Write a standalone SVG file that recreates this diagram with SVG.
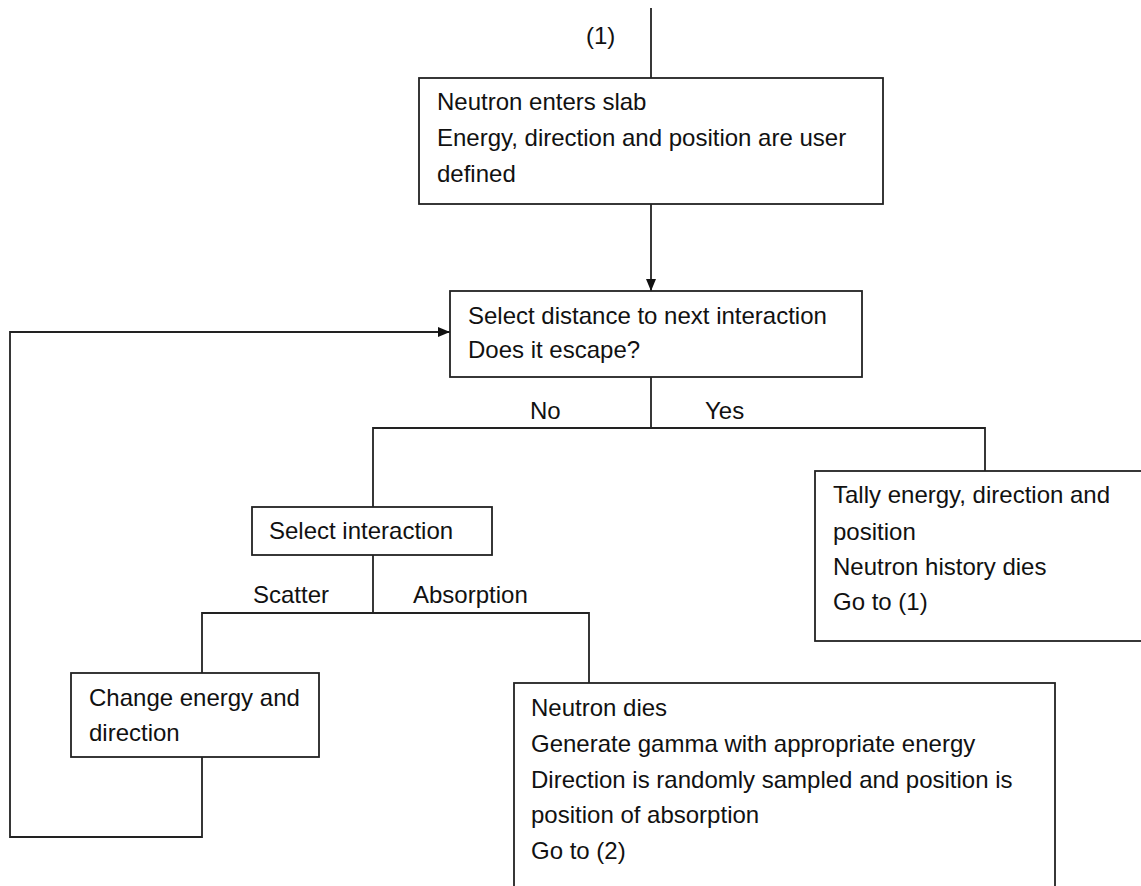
<svg xmlns="http://www.w3.org/2000/svg" width="1141" height="886" viewBox="0 0 1141 886">
  <defs>
    <marker id="arrow" viewBox="0 0 12 10" refX="12" refY="5" markerWidth="12" markerHeight="10" markerUnits="userSpaceOnUse" orient="auto">
      <path d="M0,0 L12,5 L0,10 Z" fill="#111"/>
    </marker>
    <style>
      .box { fill: #fff; stroke: #222; stroke-width: 1.8; }
      .line { fill: none; stroke: #222; stroke-width: 1.8; }
      text { font-family: "Liberation Sans", Arial, sans-serif; font-size: 24px; fill: #111; }
    </style>
  </defs>
  <rect width="1141" height="886" fill="#fff"/>

  <g id="connectors">
    <line class="line" x1="651" y1="8" x2="651" y2="78"/>
    <line class="line" x1="651" y1="204" x2="651" y2="291" marker-end="url(#arrow)"/>
    <polyline class="line" points="202,757 202,837 10,837 10,332 450,332" marker-end="url(#arrow)"/>
    <line class="line" x1="651" y1="377" x2="651" y2="428"/>
    <polyline class="line" points="373,507 373,428 985,428 985,471"/>
    <line class="line" x1="373" y1="555" x2="373" y2="613"/>
    <polyline class="line" points="202,673 202,613 589,613 589,683"/>
    <text x="586" y="44">(1)</text>
    <text x="530" y="419">No</text>
    <text x="705" y="419">Yes</text>
    <text x="253" y="603">Scatter</text>
    <text x="413" y="603">Absorption</text>
  </g>

  <g id="node-enter">
    <rect class="box" x="419" y="78" width="464" height="126"/>
    <text x="437" y="110">Neutron enters slab</text>
    <text x="437" y="146">Energy, direction and position are user</text>
    <text x="437" y="182">defined</text>
  </g>

  <g id="node-distance">
    <rect class="box" x="450" y="291" width="412" height="86"/>
    <text x="468" y="324">Select distance to next interaction</text>
    <text x="468" y="358">Does it escape?</text>
  </g>

  <g id="node-select">
    <rect class="box" x="252" y="507" width="240" height="48"/>
    <text x="269" y="539">Select interaction</text>
  </g>

  <g id="node-tally">
    <rect class="box" x="815" y="471" width="340" height="170"/>
    <text x="833" y="503">Tally energy, direction and</text>
    <text x="833" y="540">position</text>
    <text x="833" y="575">Neutron history dies</text>
    <text x="833" y="610">Go to (1)</text>
  </g>

  <g id="node-change">
    <rect class="box" x="71" y="673" width="248" height="84"/>
    <text x="89" y="706">Change energy and</text>
    <text x="89" y="741">direction</text>
  </g>

  <g id="node-dies">
    <rect class="box" x="514" y="683" width="541" height="215"/>
    <text x="531" y="716">Neutron dies</text>
    <text x="531" y="752">Generate gamma with appropriate energy</text>
    <text x="531" y="788">Direction is randomly sampled and position is</text>
    <text x="531" y="823">position of absorption</text>
    <text x="531" y="859">Go to (2)</text>
  </g>
</svg>
